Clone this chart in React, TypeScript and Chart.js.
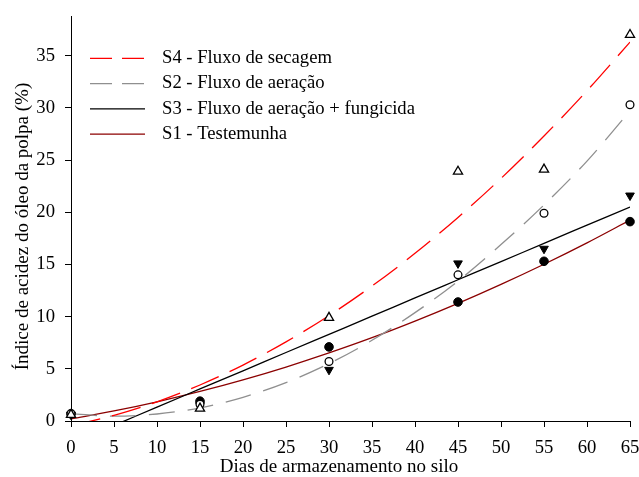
import React, { useEffect, useRef } from "react";
import { Chart, registerables } from "chart.js";

Chart.register(...registerables);

// ---- Data ----
const DAYS = [0, 15, 30, 45, 55, 65];
const S4_VALUES = [0.6, 1.2, 9.9, 23.9, 24.1, 37.0];
const S2_VALUES = [0.7, 1.6, 5.7, 14.0, 19.9, 30.3];
const S3_VALUES = [0.6, 1.5, 4.9, 15.1, 16.5, 21.6];
const S1_VALUES = [0.7, 1.9, 7.1, 11.4, 15.3, 19.1];

const TREND_DAYS = [0, 5, 10, 15, 20, 25, 30, 35, 40, 45, 50, 55, 60, 65];
const S4_TREND = [-0.46, 0.54, 1.84, 3.45, 5.36, 7.58, 10.1, 12.93, 16.06, 19.5, 23.24, 27.3, 31.64, 36.3];
const S2_TREND = [0.7, 0.47, 0.67, 1.26, 2.27, 3.68, 5.5, 7.73, 10.38, 13.4, 16.9, 20.7, 24.9, 29.7];
const S3_TREND = [-2.16, -0.42, 1.33, 3.07, 4.81, 6.56, 8.3, 10.04, 11.79, 13.53, 15.27, 17.02, 18.76, 20.5];
const S1_TREND = [0.2, 0.96, 1.84, 2.83, 3.94, 5.17, 6.52, 7.98, 9.57, 11.27, 13.09, 15.02, 17.07, 19.25];

const SERIES_LABELS = [
  "S4 - Fluxo de secagem",
  "S2 - Fluxo de aeração",
  "S3 - Fluxo de aeração + fungicida",
  "S1 - Testemunha",
];

const X_TICKS = [0, 5, 10, 15, 20, 25, 30, 35, 40, 45, 50, 55, 60, 65];
const Y_TICKS = [0, 5, 10, 15, 20, 25, 30, 35];
const X_TITLE = "Dias de armazenamento no silo";
const Y_TITLE = "Índice de acidez do óleo da polpa (%)";

const FONT_FAMILY = "'Liberation Serif', 'Times New Roman', serif";
const FONT_SIZE = 18.67;
const TITLE_FONT_SIZE = 19;

const toPoints = (xs: number[], ys: number[]) => xs.map((x, i) => ({ x, y: ys[i] }));

const legendPlugin = {
  id: "inlineLegend",
  afterDatasetsDraw(chart: any) {
    const { ctx, chartArea } = chart;
    const items = chart.data.datasets.filter((d: any) => d.legendDash !== undefined);
    const lineX0 = chartArea.left + 19;
    const lineX1 = chartArea.left + 74;
    const textX = chartArea.left + 91;
    const y0 = chartArea.top + 42.3;
    const dy = 25.3;
    ctx.save();
    items.forEach((d: any, i: number) => {
      const y = y0 + i * dy;
      ctx.beginPath();
      ctx.setLineDash(d.legendDash);
      ctx.strokeStyle = d.borderColor;
      ctx.lineWidth = d.borderWidth;
      ctx.moveTo(lineX0, y);
      ctx.lineTo(lineX1, y);
      ctx.stroke();
      ctx.setLineDash([]);
      ctx.fillStyle = "#000";
      ctx.font = `${FONT_SIZE}px ${FONT_FAMILY}`;
      ctx.textBaseline = "middle";
      ctx.textAlign = "left";
      ctx.fillText(d.label, textX, y);
    });
    ctx.restore();
  },
};

// Axis titles, placed as in the reference (slightly off-centre)
const axisTitlePlugin = {
  id: "axisTitles",
  afterDraw(chart: any) {
    const { ctx, chartArea, height } = chart;
    ctx.save();
    ctx.fillStyle = "#000";
    ctx.font = `${TITLE_FONT_SIZE}px ${FONT_FAMILY}`;
    ctx.textAlign = "center";
    ctx.textBaseline = "middle";
    const cx = (chartArea.left + chartArea.right) / 2 - 11.5;
    ctx.fillText(X_TITLE, cx, height - 9.5);
    const cy = (chartArea.top + chartArea.bottom) / 2 + 8;
    ctx.translate(23.3, cy);
    ctx.rotate(-Math.PI / 2);
    ctx.fillText(Y_TITLE, 0, 0);
    ctx.restore();
  },
};

export default function App() {
  const ref = useRef<HTMLCanvasElement>(null);

  useEffect(() => {
    const canvas = ref.current;
    if (!canvas) return;
    const font = { family: FONT_FAMILY, size: FONT_SIZE };

    const markerBase = { showLine: false, clip: false as any, borderColor: "#000" };

    const datasets: any[] = [
      {
        ...markerBase,
        label: "S4 pontos",
        data: toPoints(DAYS, S4_VALUES),
        pointStyle: "triangle",
        pointRadius: 5.3,
        backgroundColor: "#fff",
        borderWidth: 1.3,
      },
      {
        ...markerBase,
        label: "S2 pontos",
        data: toPoints(DAYS, S2_VALUES),
        pointStyle: "circle",
        pointRadius: 3.9,
        backgroundColor: "#fff",
        borderWidth: 1.3,
      },
      {
        ...markerBase,
        label: "S3 pontos",
        data: toPoints(DAYS, S3_VALUES),
        pointStyle: "triangle",
        rotation: 180,
        pointRotation: 180,
        pointRadius: 5,
        backgroundColor: "#000",
        borderWidth: 1,
      },
      {
        ...markerBase,
        label: "S1 pontos",
        data: toPoints(DAYS, S1_VALUES),
        pointStyle: "circle",
        pointRadius: 4.3,
        backgroundColor: "#000",
        borderWidth: 1,
      },
      {
        label: SERIES_LABELS[0],
        data: toPoints(TREND_DAYS, S4_TREND),
        showLine: true,
        pointRadius: 0,
        borderColor: "#ff0000",
        borderWidth: 1.3,
        borderDash: [30, 12],
        legendDash: [22, 10],
        cubicInterpolationMode: "monotone",
      },
      {
        label: SERIES_LABELS[1],
        data: toPoints(TREND_DAYS, S2_TREND),
        showLine: true,
        pointRadius: 0,
        borderColor: "#8f8f8f",
        borderWidth: 1.3,
        borderDash: [26, 13],
        legendDash: [22, 10],
        cubicInterpolationMode: "monotone",
      },
      {
        label: SERIES_LABELS[2],
        data: toPoints(TREND_DAYS, S3_TREND),
        showLine: true,
        pointRadius: 0,
        borderColor: "#000000",
        borderWidth: 1.3,
        legendDash: [],
        cubicInterpolationMode: "monotone",
      },
      {
        label: SERIES_LABELS[3],
        data: toPoints(TREND_DAYS, S1_TREND),
        showLine: true,
        pointRadius: 0,
        borderColor: "#8b0000",
        borderWidth: 1.3,
        legendDash: [],
        cubicInterpolationMode: "monotone",
      },
    ];

    const chart = new Chart(canvas, {
      type: "scatter",
      data: { datasets },
      options: {
        responsive: false,
        animation: false,
        events: [],
        layout: { padding: { top: 16, right: 9, left: 0, bottom: 0 } },
        plugins: {
          legend: { display: false },
          tooltip: { enabled: false },
        },
        scales: {
          x: {
            type: "linear",
            min: 0,
            max: 65,
            afterBuildTicks: (s: any) => {
              s.ticks = X_TICKS.map((v) => ({ value: v }));
            },
            afterFit: (s: any) => {
              s.height = 56;
              s.paddingLeft = 0;
              s.paddingRight = 0;
            },
            ticks: { font, color: "#000", padding: 10, maxRotation: 0, autoSkip: false },
            grid: { drawOnChartArea: false, drawTicks: true, tickLength: 6, color: "#000", lineWidth: 1 },
            border: { display: true, color: "#000", width: 1 },
            title: { display: false, text: X_TITLE },
          },
          y: {
            type: "linear",
            min: 0,
            max: 38.8,
            afterBuildTicks: (s: any) => {
              s.ticks = Y_TICKS.map((v) => ({ value: v }));
            },
            afterFit: (s: any) => {
              s.width = 71;
              s.paddingTop = 0;
              s.paddingBottom = 0;
            },
            ticks: { font, color: "#000", padding: 10, autoSkip: false },
            grid: { drawOnChartArea: false, drawTicks: true, tickLength: 6, color: "#000", lineWidth: 1 },
            border: { display: true, color: "#000", width: 1 },
            title: { display: false, text: Y_TITLE },
          },
        },
      } as any,
      plugins: [legendPlugin, axisTitlePlugin],
    });

    return () => chart.destroy();
  }, []);

  return (
    <div style={{ position: "fixed", left: 0, top: 0, width: 639, height: 477, background: "#fff" }}>
      <canvas ref={ref} width={639} height={477} style={{ display: "block" }} />
    </div>
  );
}
